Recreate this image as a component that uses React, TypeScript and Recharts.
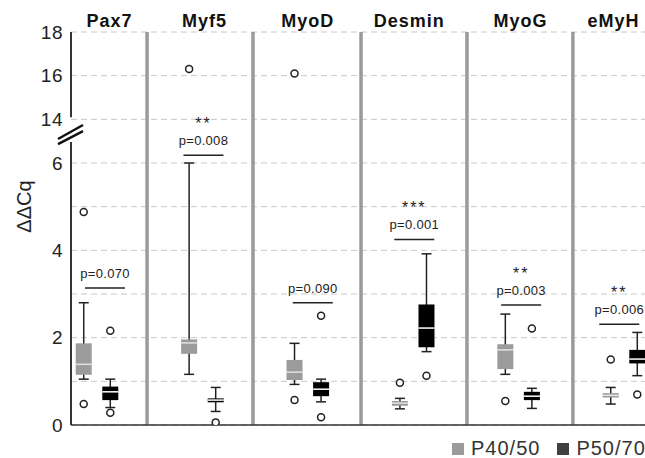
import {
  ComposedChart, Scatter, ErrorBar, XAxis, YAxis, CartesianGrid, ReferenceLine, Legend,
} from "recharts";

const genes = ["Pax7", "Myf5", "MyoD", "Desmin", "MyoG", "eMyH"];

// [whisker low, Q1, median, Q3, whisker high] per gene
const p4050Stats = [
  [1.05, 1.15, 1.39, 1.87, 2.80],
  [1.16, 1.63, 1.88, 1.96, 6.0],
  [0.93, 1.03, 1.21, 1.49, 1.87],
  [0.37, 0.44, 0.50, 0.55, 0.61],
  [1.16, 1.28, 1.72, 1.85, 2.54],
  [0.48, 0.63, 0.68, 0.73, 0.86],
];
const p5070Stats = [
  [0.40, 0.57, 0.76, 0.88, 1.05],
  [0.31, 0.52, 0.57, 0.61, 0.86],
  [0.53, 0.66, 0.82, 0.98, 1.05],
  [1.68, 1.78, 2.22, 2.76, 3.92],
  [0.38, 0.57, 0.66, 0.76, 0.84],
  [1.13, 1.41, 1.51, 1.72, 2.12],
];
const p4050Outliers = [[4.88, 0.48], [16.3], [16.1, 0.57], [0.97], [0.55], [1.50]];
const p5070Outliers = [[2.16, 0.28], [0.06], [2.50, 0.18], [1.13], [2.21], [0.70]];

const pValues = ["p=0.070", "p=0.008", "p=0.090", "p=0.001", "p=0.003", "p=0.006"];
const stars = ["", "**", "", "***", "**", "**"];
// height of the significance bar, in axis units (break-compressed scale)
const barLevel = [3.14, 6.18, 2.80, 4.25, 2.75, 2.31];

const yTickLabels = ["0", "", "2", "", "4", "", "6", "14", "16", "18"];

// layout bits
const X_MIN = -0.2467;
const X_MAX = 5.1992;
const GRAY_OFF = -0.126;
const BLACK_OFF = 0.126;
const annShift = [0.076, 0.01, 0.047, 0.01, 0.024, -0.045];
const labelShift = [12.5, 2, 0, -4, 2, -10.5];
const separators = [0.475, 1.48, 2.505, 3.51, 4.515];

const FONT = "'Liberation Sans', Arial, sans-serif";
const GRAY = "#9b9b9b";
const DARK = "#222";

// broken axis: 0-6 linear, then 14-18 at half scale
const T = (v: number) => (v <= 6 ? v : 7 + (v - 14) / 2);

const boxRows = (stats: number[][], off: number) =>
  stats.map((s, i) => {
    const [lo, q1, med, q3, hi] = s.map(T);
    return { x: i + off, med, box: [med - q1, q3 - med], whisk: [med - lo, hi - med] };
  });

const outlierRows = (list: number[][], off: number) =>
  list.flatMap((vals, i) => vals.map((v) => ({ x: i + off, y: T(v) })));

const grayRows = boxRows(p4050Stats, GRAY_OFF);
const blackRows = boxRows(p5070Stats, BLACK_OFF);
const grayOut = outlierRows(p4050Outliers, GRAY_OFF);
const blackOut = outlierRows(p5070Outliers, BLACK_OFF);
const annRows = genes.map((g, i) => ({ x: i + annShift[i], y: barLevel[i], p: pValues[i], s: stars[i] }));

const medianShape = (color: string) => (props: any) => (
  <line x1={props.cx - 8} x2={props.cx + 8} y1={props.cy} y2={props.cy} stroke={color} strokeWidth={1.5} />
);

const circleShape = (props: any) => (
  <circle cx={props.cx} cy={props.cy} r={3.5} fill="#fff" stroke={DARK} strokeWidth={1.5} />
);

const annShape = (props: any) => {
  const { cx, cy, payload } = props;
  return (
    <g>
      <line x1={cx - 20} x2={cx + 20} y1={cy} y2={cy} stroke={DARK} strokeWidth={1.5} />
      <text x={cx} y={cy - 10} textAnchor="middle" fontSize={13} fontFamily={FONT} fill={DARK}
        style={{ letterSpacing: "0.3px" }}>
        {payload.p}
      </text>
      {payload.s && (
        <text x={cx} y={cy - 26} textAnchor="middle" fontSize={16} fontFamily={FONT} fill={DARK}
          style={{ letterSpacing: "2px" }}>
          {payload.s}
        </text>
      )}
    </g>
  );
};

const GeneTick = (props: any) => {
  const { x, y, payload } = props;
  return (
    <text x={x + labelShift[payload.value]} y={y + 3} textAnchor="middle" fontSize={18} fontWeight="bold"
      fontFamily={FONT} fill="#111" style={{ letterSpacing: "1px" }}>
      {genes[payload.value]}
    </text>
  );
};

const YLabel = (props: any) => {
  const vb = props.viewBox;
  const cy = vb.y + vb.height / 2 - 22;
  return (
    <text x={31} y={cy} transform={`rotate(-90 31 ${cy})`} textAnchor="middle" fontSize={20}
      fontFamily={FONT} fill="#222">
      ΔΔCq
    </text>
  );
};

const legendItems = [
  { name: "P40/50", color: GRAY },
  { name: "P50/70", color: "#404040" },
];

const LegendContent = () => (
  <div style={{ display: "flex", alignItems: "center", fontFamily: FONT, fontSize: 20, color: "#333", letterSpacing: 1 }}>
    {legendItems.map((it) => (
      <div key={it.name} style={{ display: "flex", alignItems: "center", marginRight: 17 }}>
        <span style={{ width: 12, height: 12, background: it.color, display: "inline-block", marginRight: 7 }} />
        <span>{it.name}</span>
      </div>
    ))}
  </div>
);

export default function App() {
  return (
    <div style={{ position: "absolute", left: 0, top: 0, background: "#fff" }}>
      <ComposedChart width={645} height={458} margin={{ top: 0, right: 0, bottom: 33, left: 0 }}>
        <CartesianGrid vertical={false} stroke="#c8c8c8" strokeDasharray="6 4" />
        <XAxis type="number" dataKey="x" orientation="top" height={32} domain={[X_MIN, X_MAX]}
          allowDataOverflow ticks={[0, 1, 2, 3, 4, 5]} interval={0} axisLine={false} tickLine={false}
          tick={<GeneTick />} />
        <YAxis type="number" domain={[0, 9]} ticks={[0, 1, 2, 3, 4, 5, 6, 7, 8, 9]} interval={0}
          width={71} axisLine={false} tickLine={false} allowDataOverflow
          tickFormatter={(v: number) => yTickLabels[v]}
          tick={{ fontSize: 19, fill: "#222", fontFamily: FONT, letterSpacing: 0.5 }}
          label={<YLabel />} />

        {separators.map((s) => (
          <ReferenceLine key={s} x={s} stroke="#9a9a9a" strokeWidth={3.5} />
        ))}
        <ReferenceLine y={0} stroke="#333" strokeWidth={1.5} />
        <ReferenceLine segment={[{ x: X_MIN, y: 0 }, { x: X_MIN, y: 6.48 }]} stroke="#333" strokeWidth={2} ifOverflow="visible" />
        <ReferenceLine segment={[{ x: X_MIN, y: 7.05 }, { x: X_MIN, y: 9 }]} stroke="#333" strokeWidth={2} ifOverflow="visible" />
        <ReferenceLine segment={[{ x: -0.37, y: 6.55 }, { x: -0.133, y: 6.87 }]} stroke="#111" strokeWidth={2.5} ifOverflow="visible" />
        <ReferenceLine segment={[{ x: -0.37, y: 6.43 }, { x: -0.133, y: 6.73 }]} stroke="#111" strokeWidth={2.5} ifOverflow="visible" />

        <Scatter data={grayRows} dataKey="med" isAnimationActive={false} shape={medianShape("#e2e2e2")}>
          <ErrorBar dataKey="whisk" direction="y" width={5} stroke={DARK} strokeWidth={1.5} />
          <ErrorBar dataKey="box" direction="y" width={0} stroke={GRAY} strokeWidth={16} />
        </Scatter>
        <Scatter data={blackRows} dataKey="med" isAnimationActive={false} shape={medianShape("#fff")}>
          <ErrorBar dataKey="whisk" direction="y" width={5} stroke={DARK} strokeWidth={1.5} />
          <ErrorBar dataKey="box" direction="y" width={0} stroke="#000" strokeWidth={16} />
        </Scatter>
        <Scatter data={grayOut} dataKey="y" isAnimationActive={false} shape={circleShape} />
        <Scatter data={blackOut} dataKey="y" isAnimationActive={false} shape={circleShape} />
        <Scatter data={annRows} dataKey="y" isAnimationActive={false} shape={annShape} />

        <Legend layout="horizontal" verticalAlign="middle" align="center" content={<LegendContent />}
          wrapperStyle={{ top: 437, left: 452, width: 200, height: 22 }} />
      </ComposedChart>
    </div>
  );
}
